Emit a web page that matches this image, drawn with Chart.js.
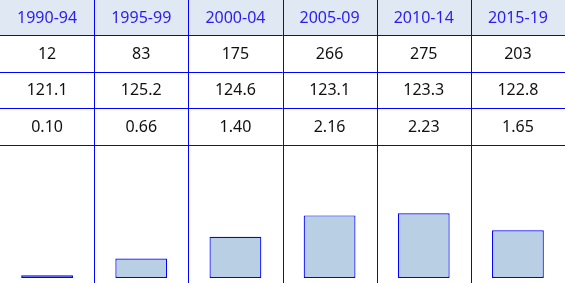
<!DOCTYPE html>
<html>
<head>
<meta charset="utf-8">
<script src="https://cdn.jsdelivr.net/npm/chart.js@4"></script>
<style>
  html, body { margin: 0; padding: 0; background: #fff; }
  #wrap { width: 565px; height: 283px; }
</style>
</head>
<body>
<div id="wrap"><canvas id="c" width="565" height="283"></canvas></div>
<script>
// table rows + bar values
const periods = ['1990-94', '1995-99', '2000-04', '2005-09', '2010-14', '2015-19'];
const counts = [12, 83, 175, 266, 275, 203];
const avgValue = ['121.1', '125.2', '124.6', '123.1', '123.3', '122.8'];
const totals = ['0.10', '0.66', '1.40', '2.16', '2.23', '1.65'];

const ff = '"Noto Sans", "Open Sans", sans-serif';
const blue = '#0000ff';
const rowLines = [35, 72, 108, 145]; // bottom edge of each table row
const rowMids = [18, 54.5, 90.5, 127];

const tablePlugin = {
    id: 'table',
    beforeDraw(chart) {
        const ctx = chart.ctx, w = chart.width, h = chart.height;
        const x = chart.scales.x;
        const rows = [periods, counts.map(String), avgValue, totals];
        ctx.save();
        ctx.fillStyle = '#dfe8f3';
        ctx.fillRect(0, 0, w, rowLines[0]);
        ctx.font = '16px ' + ff;
        ctx.textAlign = 'center';
        ctx.textBaseline = 'middle';
        rows.forEach((r, ri) => {
            ctx.fillStyle = ri === 0 ? '#2b1cf0' : '#111';
            r.forEach((t, i) => ctx.fillText(t, x.getPixelForValue(i), rowMids[ri]));
        });
        // grid
        ctx.strokeStyle = blue;
        ctx.lineWidth = 1;
        ctx.beginPath();
        rowLines.forEach(y => { ctx.moveTo(0, y + 0.5); ctx.lineTo(w, y + 0.5); });
        for (let i = 1; i < periods.length; i++) {
            const px = Math.round((x.getPixelForValue(i - 1) + x.getPixelForValue(i)) / 2) + 0.5;
            ctx.moveTo(px, 0); ctx.lineTo(px, h);
        }
        ctx.stroke();
        ctx.restore();
    }
};

new Chart(document.getElementById('c'), {
    type: 'bar',
    data: {
        labels: periods,
        datasets: [{
            data: counts,
            backgroundColor: '#b9cfe4',
            borderColor: blue,
            borderWidth: 1.2,
            borderSkipped: false,
            barPercentage: 0.55,
            categoryPercentage: 1
        }]
    },
    options: {
        responsive: false,
        animation: false,
        layout: { padding: { top: 145, bottom: 5, left: 0, right: 0 } },
        plugins: { legend: { display: false }, tooltip: { enabled: false } },
        scales: {
            x: { display: false },
            y: { display: false, min: 0, max: 565 }
        }
    },
    plugins: [tablePlugin]
});
</script>
</body>
</html>
